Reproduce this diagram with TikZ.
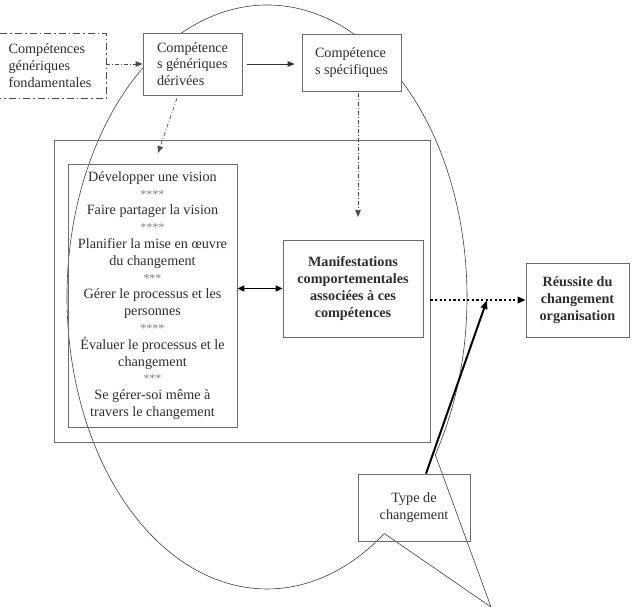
\documentclass[tikz,border=0pt]{standalone}
\usepackage{fontspec}
\setmainfont{Liberation Serif}
\usepackage{tikz}
\usetikzlibrary{arrows.meta}
\definecolor{trait}{gray}{0.42}
\definecolor{encre}{gray}{0.18}
\newcommand{\etoiles}[1]{{\color{black!50}\fontsize{12}{16.8}\selectfont #1}}

\begin{document}
\begin{tikzpicture}[x=1pt,y=-1pt,font=\fontsize{14.2}{16.8}\selectfont,
  boite/.style={draw=trait,line width=0.7pt,inner sep=0pt,text=encre},
  gras/.style={font=\fontsize{14.2}{16.8}\selectfont\bfseries},
  tiretbox/.style={draw=black!70,line width=0.9pt,dash pattern=on 7pt off 3pt on 1.5pt off 3pt},
  tiretpoint/.style={black!70,line width=0.7pt,dash pattern=on 4pt off 2pt on 1pt off 2pt,-{Triangle[length=7pt,width=5.5pt]}},
  fleche/.style={black!80,line width=0.7pt,-{Triangle[length=7pt,width=5.5pt]}},
  double fleche/.style={black,line width=1.5pt,{Triangle[length=7pt,width=6pt]}-{Triangle[length=7pt,width=6pt]}},
  pointille/.style={black,line width=2pt,dash pattern=on 2.2pt off 2.4pt,-{Triangle[length=8pt,width=6.5pt]}},
  fleche epaisse/.style={black,line width=2pt,-{Triangle[length=9pt,width=6.5pt]}}]
\useasboundingbox (0,0) rectangle (633,607);
% bulle
\draw[black!75,line width=0.6pt] (267,297) ++(-32.7:200pt and 292pt)
  arc[start angle=-32.7,end angle=305.9,x radius=200pt,y radius=292pt] -- (491,607) -- cycle;
% competences
\node[boite,tiretbox,minimum width=112pt,minimum height=65pt,align=left] (fond) at (50,65.5) {Compétences\\génériques\\fondamentales};
\node[boite,fill=white,minimum width=99pt,minimum height=62pt,align=left] (deriv) at (192.5,64) {Compétence\\s génériques\\dérivées};
\node[boite,fill=white,minimum width=99pt,minimum height=57pt,align=left] (specif) at (351.5,62.5) {Compétence\\s spécifiques};
% cadre et liste
\node[boite,minimum width=376pt,minimum height=302pt] (cadre) at (242,291) {};
\node[boite,minimum width=169pt,minimum height=263pt,align=center] (liste) at (152.5,295.5) {Développer une vision\\\etoiles{****}\\Faire partager la vision\\\etoiles{****}\\Planifier la mise en œuvre\\du changement\\\etoiles{***}\\Gérer le processus et les\\personnes\\\etoiles{****}\\Évaluer le processus et le\\changement\\\etoiles{***}\\Se gérer-soi même à\\travers le changement};
\node[boite,gras,minimum width=140pt,minimum height=97pt,align=center] (manif) at (353,288.5) {Manifestations\\comportementales\\associées à ces\\compétences};
\node[boite,gras,minimum width=103pt,minimum height=74pt,align=center] (reussite) at (577.5,300) {Réussite du\\changement\\organisation};
\node[boite,minimum width=112pt,minimum height=67pt,align=center] (type) at (414,507.5) {Type de\\changement};
% fleches
\coordinate (cible) at (158,153);
\coordinate (vise) at (358,217);
\coordinate (jonction) at (487,300);
\draw[tiretpoint] (fond.east |- deriv.west) -- (deriv.west);
\draw[fleche,shorten <=5pt,shorten >=7pt] (deriv.east) -- (deriv.east -| specif.west);
\draw[tiretpoint,shorten <=3pt] ([xshift=-14.5pt]deriv.south) -- (cible);
\draw[tiretpoint,shorten <=2pt] ([xshift=6.5pt]specif.south) -- (vise);
\draw[double fleche] (liste.east |- manif.west) -- (manif.west);
\draw[pointille] (cadre.east |- reussite.west) -- (reussite.west);
\draw[fleche epaisse] ([xshift=12pt]type.north) -- (jonction);
\end{tikzpicture}
\end{document}
